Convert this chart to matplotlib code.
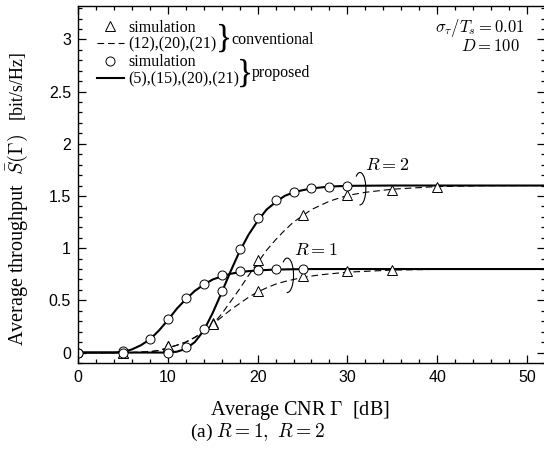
import matplotlib
matplotlib.use("Agg")
import matplotlib.pyplot as plt
from matplotlib.patches import Arc
from matplotlib.ticker import MultipleLocator

plt.rcParams["mathtext.fontset"] = "cm"
plt.rcParams["font.family"] = "Liberation Serif"

# analytical curves: proposed (solid), conventional (dashed)
prop_r1_x = [0, 4, 5, 6, 7, 8, 9, 10, 11, 12, 13, 14, 15, 16, 17, 18, 19, 20, 22, 24, 26, 30, 40, 52]
prop_r1_y = [0, 0, 0.005, 0.03, 0.07, 0.125, 0.21, 0.31, 0.42, 0.51, 0.59, 0.65, 0.70, 0.73, 0.755, 0.77,
             0.78, 0.787, 0.795, 0.798, 0.8, 0.8, 0.8, 0.8]
prop_r2_x = [0, 10, 11, 12, 13, 14, 15, 16, 17, 18, 19, 20, 21, 22, 23, 24, 25, 26, 28, 30, 35, 52]
prop_r2_y = [0, 0, 0.008, 0.035, 0.1, 0.21, 0.38, 0.575, 0.78, 0.97, 1.13, 1.26, 1.37, 1.44, 1.5, 1.535,
             1.555, 1.572, 1.59, 1.597, 1.6, 1.6]
conv_r1_x = [0, 6, 7, 8, 9, 10, 11, 12, 13, 14, 15, 16, 17, 18, 19, 20, 21, 22, 23, 24, 25, 27, 30, 35,
             40, 45, 52]
conv_r1_y = [0, 0, 0.004, 0.008, 0.02, 0.045, 0.07, 0.1, 0.145, 0.2, 0.27, 0.34, 0.41, 0.47, 0.53, 0.58,
             0.62, 0.655, 0.68, 0.70, 0.72, 0.745, 0.77, 0.79, 0.797, 0.8, 0.8]
conv_r2_x = [0, 6, 7, 8, 9, 10, 11, 12, 13, 14, 15, 16, 17, 18, 19, 20, 21, 22, 23, 24, 25, 26, 27, 28,
             30, 32, 35, 40, 45, 52]
conv_r2_y = [0, 0, 0.004, 0.008, 0.02, 0.045, 0.07, 0.1, 0.145, 0.2, 0.27, 0.37, 0.49, 0.61, 0.74, 0.86,
             0.98, 1.08, 1.17, 1.25, 1.31, 1.37, 1.41, 1.45, 1.505, 1.535, 1.565, 1.59, 1.598, 1.6]

# simulation points
sim_prop_r1_x = [0, 5, 8, 10, 12, 14, 16, 18, 20, 22, 25]
sim_prop_r1_y = [0, 0.016, 0.13, 0.32, 0.52, 0.66, 0.74, 0.78, 0.79, 0.80, 0.805]
sim_prop_r2_x = [0, 5, 10, 12, 14, 16, 18, 20, 22, 24, 26, 28, 30]
sim_prop_r2_y = [0, 0, 0.0, 0.05, 0.23, 0.59, 0.99, 1.29, 1.46, 1.54, 1.575, 1.59, 1.6]
sim_conv_r1_x = [5, 10, 15, 20, 25, 30, 35]
sim_conv_r1_y = [0, 0.06, 0.28, 0.59, 0.73, 0.778, 0.788]
sim_conv_r2_x = [5, 10, 15, 20, 25, 30, 35, 40]
sim_conv_r2_y = [0, 0.06, 0.27, 0.89, 1.32, 1.51, 1.56, 1.585]

fig = plt.figure(figsize=(5.44, 4.53), dpi=100)
ax = fig.add_axes([0.1434, 0.1987, 1.0018 - 0.1434, 0.9868 - 0.1987])

dash = (0, (6, 3.5))
ax.plot(conv_r1_x, conv_r1_y, color="k", lw=0.8, linestyle=dash)
l_conv, = ax.plot(conv_r2_x, conv_r2_y, color="k", lw=0.8, linestyle=dash)
ax.plot(prop_r1_x, prop_r1_y, color="k", lw=1.5)
l_prop, = ax.plot(prop_r2_x, prop_r2_y, color="k", lw=1.5)

mk = dict(linestyle="none", mfc="white", mec="k", mew=0.7, ms=6.5)
ax.plot(sim_conv_r1_x, sim_conv_r1_y, marker="^", **mk)
s_conv, = ax.plot(sim_conv_r2_x, sim_conv_r2_y, marker="^", **mk)
ax.plot(sim_prop_r1_x, sim_prop_r1_y, marker="o", **mk)
s_prop, = ax.plot(sim_prop_r2_x, sim_prop_r2_y, marker="o", **mk)

# brackets + R labels
ax.add_patch(Arc((23.3, 0.74), 1.4, 0.33, theta1=-110, theta2=165, color="k", lw=0.8))
ax.add_patch(Arc((31.4, 1.57), 1.3, 0.31, theta1=-110, theta2=165, color="k", lw=0.8))
ax.text(26.5, 0.98, r"$R=1$", fontsize=13, ha="center", va="center")
ax.text(34.4, 1.79, r"$R=2$", fontsize=13, ha="center", va="center")

ax.text(0.955, 0.938, r"$\sigma_\tau/T_s=0.01$", transform=ax.transAxes, ha="right", va="center", fontsize=12)
ax.text(0.947, 0.885, r"$D=100$", transform=ax.transAxes, ha="right", va="center", fontsize=12)

leg = ax.legend([s_conv, l_conv, s_prop, l_prop],
                ["simulation", "(12),(20),(21)", "simulation", "(5),(15),(20),(21)"],
                loc="upper left", bbox_to_anchor=(0.041, 0.962), frameon=False, fontsize=11.5,
                handlelength=1.65, handletextpad=0.3, labelspacing=0.08, borderaxespad=0, borderpad=0)
ax.text(0.3126, 0.91, "}", transform=ax.transAxes, fontsize=24, ha="center", va="center")
ax.text(0.328, 0.905, "conventional", transform=ax.transAxes, fontsize=11.5, ha="left", va="center")
ax.text(0.358, 0.81, "}", transform=ax.transAxes, fontsize=24, ha="center", va="center")
ax.text(0.373, 0.812, "proposed", transform=ax.transAxes, fontsize=11.5, ha="left", va="center")

ax.set_xlim(0, 52)
ax.set_ylim(-0.1, 3.32)
ax.set_xticks([0, 10, 20, 30, 40, 50])
ax.set_yticks([0, 0.5, 1, 1.5, 2, 2.5, 3])
ax.set_yticklabels(["0", "0.5", "1", "1.5", "2", "2.5", "3"])
ax.xaxis.set_minor_locator(MultipleLocator(2))
ax.yaxis.set_minor_locator(MultipleLocator(0.1))
ax.tick_params(which="both", direction="in", top=True, right=True, width=0.9)
ax.tick_params(which="major", length=6)
ax.tick_params(which="minor", length=3)
for lab in ax.get_xticklabels() + ax.get_yticklabels():
    lab.set_family("Liberation Sans")
    lab.set_fontsize(11.5)
ax.tick_params(axis="x", pad=5)
ax.tick_params(axis="y", pad=5)
for sp in ax.spines.values():
    sp.set_linewidth(1.0)

ax.set_xlabel(r"Average CNR $\Gamma$  [dB]", fontsize=14.5)
ax.xaxis.set_label_coords(0.475, -0.1)
ax.text(-0.13, 0.345, r"Average throughput  $\bar{S}(\Gamma)$", transform=ax.transAxes,
        rotation=90, ha="center", va="center", fontsize=14.5)
ax.text(-0.13, 0.78, "[bit/s/Hz]", transform=ax.transAxes, rotation=90, ha="center", va="center",
        fontsize=13)

fig.text(0.474, 0.046, r"(a) $R=1,\ R=2$", ha="center", va="center", fontsize=14)

plt.savefig("out.png", dpi=100)
